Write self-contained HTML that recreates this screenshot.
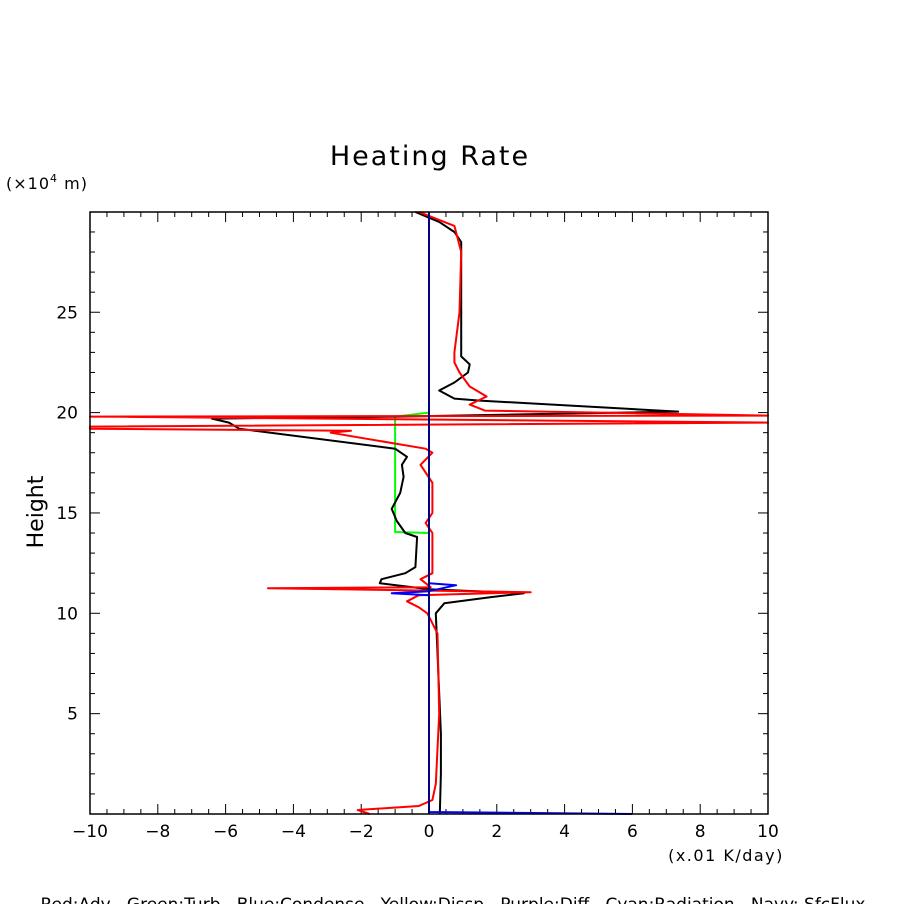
<!DOCTYPE html>
<html><head><meta charset="utf-8"><style>
body{margin:0;background:#fff;width:904px;height:904px;overflow:hidden}
svg text{font-family:"DejaVu Sans","Liberation Sans",sans-serif;fill:#000}
</style></head><body>
<svg id="chart" width="904" height="904" viewBox="0 0 904 904" xmlns="http://www.w3.org/2000/svg">
<rect width="904" height="904" fill="#fff"/>
<text x="430" y="165" font-size="27" letter-spacing="2" text-anchor="middle">Heating Rate</text>
<text x="6" y="189" font-size="16" letter-spacing="1">(×10<tspan font-size="11" dy="-7">4</tspan><tspan dy="7"> m)</tspan></text>
<text transform="translate(43,512) rotate(-90)" font-size="22" text-anchor="middle">Height</text>
<text x="726" y="861" font-size="16" letter-spacing="1.5" text-anchor="middle">(x.01 K/day)</text>
<text x="453" y="910" font-size="17" text-anchor="middle" xml:space="preserve" style="white-space:pre">Red:Adv   Green:Turb   Blue:Condense   Yellow:Dissp   Purple:Diff   Cyan:Radiation   Navy: SfcFlux</text>
<g id="axes"></g>
<g id="series"></g>
<rect x="90" y="212" width="678" height="602" fill="none" stroke="#000" stroke-width="1.5"/>
</svg>
<script>
const xTicks=[-10,-8,-6,-4,-2,0,2,4,6,8,10];
const yTicks=[5,10,15,20,25];
const blackH=[0,2,4,10,10.5,10.8,11,11.2,11.5,11.7,12,12.3,13.8,14,14.6,15.2,16,16.8,17.4,17.8,18.2,19.2,19.5,19.7,19.8,20.05,20.6,20.7,21.1,21.5,22,22.4,22.8,25,28.5,29,29.5,30];
const blackV=[0.32,0.35,0.35,0.2,0.45,1.8,2.8,0,-1.45,-1.4,-0.7,-0.4,-0.35,-0.7,-0.95,-1.1,-0.85,-0.75,-0.8,-0.65,-1.0,-5.6,-5.9,-6.4,-0.9,7.35,1.5,0.75,0.3,0.75,1.15,1.2,0.95,0.95,0.95,0.75,0.3,-0.4];
const redH=[0,0.2,0.4,0.7,1.5,5,9,10,10.3,10.6,10.9,11.05,11.25,11.3,11.7,12,14,14.5,15,16.5,17.4,18,18.2,19,19.1,19.2,19.3,19.5,19.8,19.85,20.1,20.4,20.8,21.3,22,22.5,23,25,28,29.3,30];
const redV=[-1.75,-2.1,-0.3,0.1,0.2,0.3,0.25,-0.05,-0.3,-0.65,-0.3,3.0,-4.75,0.05,-0.25,0.1,0.1,-0.1,0.1,0.1,-0.25,0.1,-0.1,-2.9,-2.3,-10,-10,10,-10,10,1.65,1.2,1.7,1.2,0.9,0.75,0.75,0.9,0.95,0.75,-0.3];
const greenH=[14,14.05,19.8,20];
const greenV=[0,-1.0,-1.0,0];
const blueH=[0,0.1,0.15,10.9,11.0,11.1,11.4,11.5,11.6,30];
const blueV=[6,0,0,0,-1.1,0,0.8,0,0,0];
const navyH=[0,30];
const navyV=[0,0];
const X=v=>90+(v+10)*33.9;
const Y=h=>814-h*20.07;
const NS='http://www.w3.org/2000/svg';
const ax=document.getElementById('axes'),sr=document.getElementById('series');
function mk(tag,attrs,parent){const e=document.createElementNS(NS,tag);for(const k in attrs)e.setAttribute(k,attrs[k]);parent.appendChild(e);return e;}
for(let v=-10;v<=10;v+=0.5){const major=Number.isInteger(v/2);const L=major?10:5;
 mk('line',{x1:X(v),x2:X(v),y1:814,y2:814-L,stroke:'#000'},ax);
 mk('line',{x1:X(v),x2:X(v),y1:212,y2:212+L,stroke:'#000'},ax);}
for(let h=1;h<30;h+=1){const major=h%5===0;const L=major?10:5;
 mk('line',{x1:90,x2:90+L,y1:Y(h),y2:Y(h),stroke:'#000'},ax);
 mk('line',{x1:768,x2:768-L,y1:Y(h),y2:Y(h),stroke:'#000'},ax);}
xTicks.forEach(v=>{const t=mk('text',{x:X(v),y:837,'font-size':17,'text-anchor':'middle'},ax);t.textContent=(v<0?'−':'')+Math.abs(v);
 
 });
yTicks.forEach(h=>{const t=mk('text',{x:78,y:Y(h)+6,'font-size':17,'text-anchor':'end'},ax);t.textContent=h;
 
 });
function line(H,V,color,name){const d=H.map((h,i)=>(i?'L':'M')+Math.max(90,Math.min(768,X(V[i]))).toFixed(1)+' '+Y(h).toFixed(1)).join(' ');
 const p=mk('path',{d:d,fill:'none',stroke:color,'stroke-width':2,'stroke-linejoin':'round'},sr);
 
 }
line(greenH,greenV,'#00ff00','turb-line');
line(blackH,blackV,'#000','total-line');
line(redH,redV,'#ff0000','adv-line');
line(blueH,blueV,'#0000ff','condense-line');
line(navyH,navyV,'#000080','sfcflux-line');
</script>
</body></html>
